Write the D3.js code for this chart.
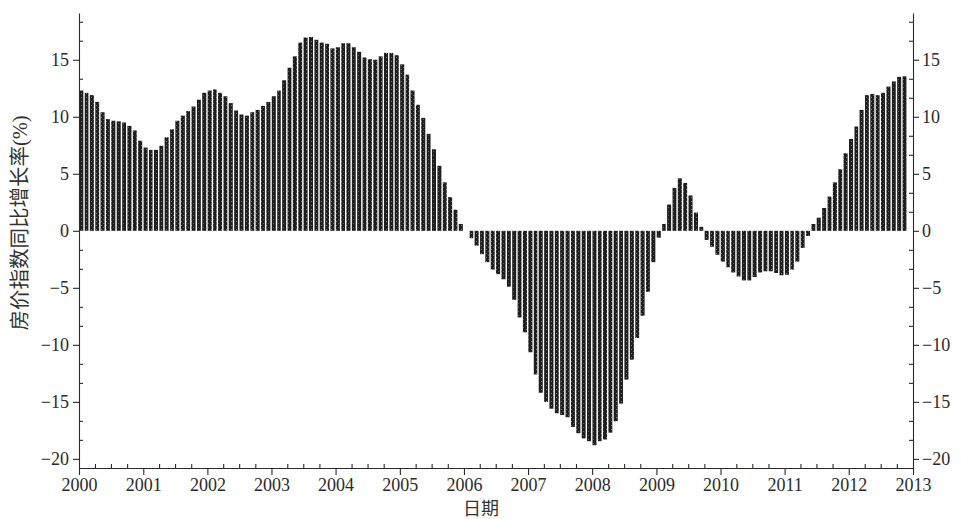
<!DOCTYPE html>
<html>
<head>
<meta charset="utf-8">
<script src="https://cdn.jsdelivr.net/npm/d3@7"></script>
<style>
  html, body { margin: 0; padding: 0; background: #fff; }
  svg { display: block; }
  .tick text { font-family: "Liberation Serif", "Times New Roman", serif; fill: #2a2a2a; }
</style>
</head>
<body>
<svg id="chart" width="961" height="519"></svg>
<script>
// Year-on-year growth of the house price index (%), monthly, Jan 2000 – Nov 2012
const yoy2000 = [12.3, 12.1, 11.9, 11.3, 10.4, 9.8, 9.65, 9.6, 9.5, 9.2, 8.8, 7.9];
const yoy2001 = [7.3, 7.1, 7.1, 7.45, 8.2, 8.9, 9.65, 10.1, 10.5, 10.9, 11.5, 12.1];
const yoy2002 = [12.3, 12.4, 12.1, 11.8, 11.2, 10.55, 10.2, 10.1, 10.4, 10.6, 10.95, 11.3];
const yoy2003 = [11.8, 12.3, 13.2, 14.3, 15.3, 16.5, 16.95, 17.0, 16.75, 16.5, 16.4, 16.0];
const yoy2004 = [16.1, 16.45, 16.45, 16.1, 15.7, 15.2, 15.05, 15.0, 15.3, 15.6, 15.6, 15.4];
const yoy2005 = [14.6, 13.7, 12.3, 11.05, 9.9, 8.5, 7.15, 5.7, 4.25, 2.95, 1.85, 0.6];
const yoy2006 = [0.0, -0.65, -1.3, -2.05, -2.75, -3.4, -3.8, -4.25, -4.9, -6.05, -7.6, -8.9];
const yoy2007 = [-10.65, -12.6, -14.2, -15.0, -15.6, -16.0, -16.15, -16.35, -17.2, -17.75, -18.2, -18.45];
const yoy2008 = [-18.8, -18.45, -18.3, -17.7, -16.7, -15.15, -13.05, -11.3, -9.4, -7.45, -5.35, -2.75];
const yoy2009 = [-0.6, 0.6, 2.3, 3.75, 4.6, 4.2, 3.1, 1.6, 0.35, -0.8, -1.4, -2.1];
const yoy2010 = [-2.7, -3.2, -3.65, -4.0, -4.35, -4.35, -4.05, -3.65, -3.55, -3.55, -3.7, -3.9];
const yoy2011 = [-3.85, -3.4, -2.7, -1.5, -0.45, 0.6, 1.15, 2.0, 3.0, 4.25, 5.4, 6.8];
const yoy2012 = [8.05, 9.15, 10.6, 11.9, 12.0, 11.9, 12.1, 12.65, 13.1, 13.5, 13.55];

const startYears = [2000, 2001, 2002, 2003, 2004, 2005, 2006, 2007, 2008, 2009, 2010, 2011, 2012];
const yearlySeries = [yoy2000, yoy2001, yoy2002, yoy2003, yoy2004, yoy2005, yoy2006,
                      yoy2007, yoy2008, yoy2009, yoy2010, yoy2011, yoy2012];

const xTickYears = [2000, 2001, 2002, 2003, 2004, 2005, 2006, 2007, 2008, 2009, 2010, 2011, 2012, 2013];
const yTickValues = [-20, -15, -10, -5, 0, 5, 10, 15];
const yLabel = "房价指数同比增长率(%)";
const xLabel = "日期";

// monthly records built from the yearly arrays
const records = [];
startYears.forEach((yr, k) => {
  yearlySeries[k].forEach((v, m) => records.push({ date: new Date(yr, m, 1), value: v }));
});

const svg = d3.select("#chart");
const plotLeft = 79, plotRight = 913, plotTop = 13, plotBottom = 468;

const x = d3.scaleTime()
  .domain([new Date(2000, 0, 1), new Date(2013, 0, 1)])
  .range([plotLeft, plotRight]);
const y = d3.scaleLinear()
  .domain([-20.8, 19.1])
  .range([plotBottom, plotTop]);

// grainy dark fill for the bars
const defs = svg.append("defs");
const pat = defs.append("pattern")
  .attr("id", "grain").attr("patternUnits", "userSpaceOnUse")
  .attr("width", 5).attr("height", 4);
pat.append("rect").attr("width", 5).attr("height", 4).attr("fill", "#1e1e1e");
pat.append("rect").attr("x", 1).attr("y", 1).attr("width", 1).attr("height", 1).attr("fill", "#808080");
pat.append("rect").attr("x", 3).attr("y", 3).attr("width", 1).attr("height", 1).attr("fill", "#606060");

// bars
svg.append("g")
  .selectAll("rect")
  .data(records)
  .join("rect")
  .attr("x", d => x(d.date) + 0.3)
  .attr("width", d => x(d3.timeMonth.offset(d.date, 1)) - x(d.date) - 1.4)
  .attr("y", d => y(Math.max(0, d.value)))
  .attr("height", d => Math.abs(y(d.value) - y(0)))
  .attr("fill", "url(#grain)");

// minor tick positions
const yMinor = d3.range(-20, 19, 5 / 3)
  .filter(v => Math.abs(v / 5 - Math.round(v / 5)) > 0.01);
const xMinor = d3.timeMonth.every(3).range(new Date(2000, 0, 1), new Date(2013, 0, 2))
  .filter(d => d.getMonth() !== 0);

const axisColor = "#2a2a2a";
function styleAxis(g) {
  g.selectAll("path, line").attr("stroke", axisColor).attr("stroke-width", 1.1);
}

// bottom axis
svg.append("g")
  .attr("transform", `translate(0,${plotBottom})`)
  .call(d3.axisBottom(x)
    .tickValues(xTickYears.map(yr => new Date(yr, 0, 1)))
    .tickFormat(d3.timeFormat("%Y"))
    .tickSize(7).tickSizeOuter(0).tickPadding(3))
  .call(styleAxis)
  .call(g => g.selectAll("text").attr("font-size", 18));
svg.append("g")
  .attr("transform", `translate(0,${plotBottom})`)
  .call(d3.axisBottom(x).tickValues(xMinor).tickFormat("").tickSize(-4).tickSizeOuter(0))
  .call(styleAxis)
  .call(g => g.select(".domain").remove());

const fmtY = d => d < 0 ? "\u2212" + Math.abs(d) : String(d);

// left axis
svg.append("g")
  .attr("transform", `translate(${plotLeft},0)`)
  .call(d3.axisLeft(y).tickValues(yTickValues).tickFormat(fmtY)
    .tickSize(6).tickSizeOuter(0).tickPadding(4))
  .call(styleAxis)
  .call(g => g.selectAll("text").attr("font-size", 18));
svg.append("g")
  .attr("transform", `translate(${plotLeft},0)`)
  .call(d3.axisLeft(y).tickValues(yMinor).tickFormat("").tickSize(-4).tickSizeOuter(0))
  .call(styleAxis)
  .call(g => g.select(".domain").remove());

// right axis
svg.append("g")
  .attr("transform", `translate(${plotRight},0)`)
  .call(d3.axisRight(y).tickValues(yTickValues).tickFormat(fmtY)
    .tickSize(6).tickSizeOuter(0).tickPadding(3))
  .call(styleAxis)
  .call(g => g.selectAll("text").attr("font-size", 18));
svg.append("g")
  .attr("transform", `translate(${plotRight},0)`)
  .call(d3.axisRight(y).tickValues(yMinor).tickFormat("").tickSize(-4).tickSizeOuter(0))
  .call(styleAxis)
  .call(g => g.select(".domain").remove());

// axis titles
svg.append("text")
  .attr("transform", "translate(27,223) rotate(-90)")
  .attr("text-anchor", "middle")
  .attr("font-family", "'Liberation Serif', 'Noto Sans CJK SC', serif")
  .attr("font-size", 20.5)
  .attr("fill", "#333")
  .text(yLabel);

svg.append("text")
  .attr("x", 481).attr("y", 515)
  .attr("text-anchor", "middle")
  .attr("font-family", "'Noto Sans CJK SC', sans-serif")
  .attr("font-size", 18)
  .attr("fill", "#333")
  .text(xLabel);
</script>
</body>
</html>
